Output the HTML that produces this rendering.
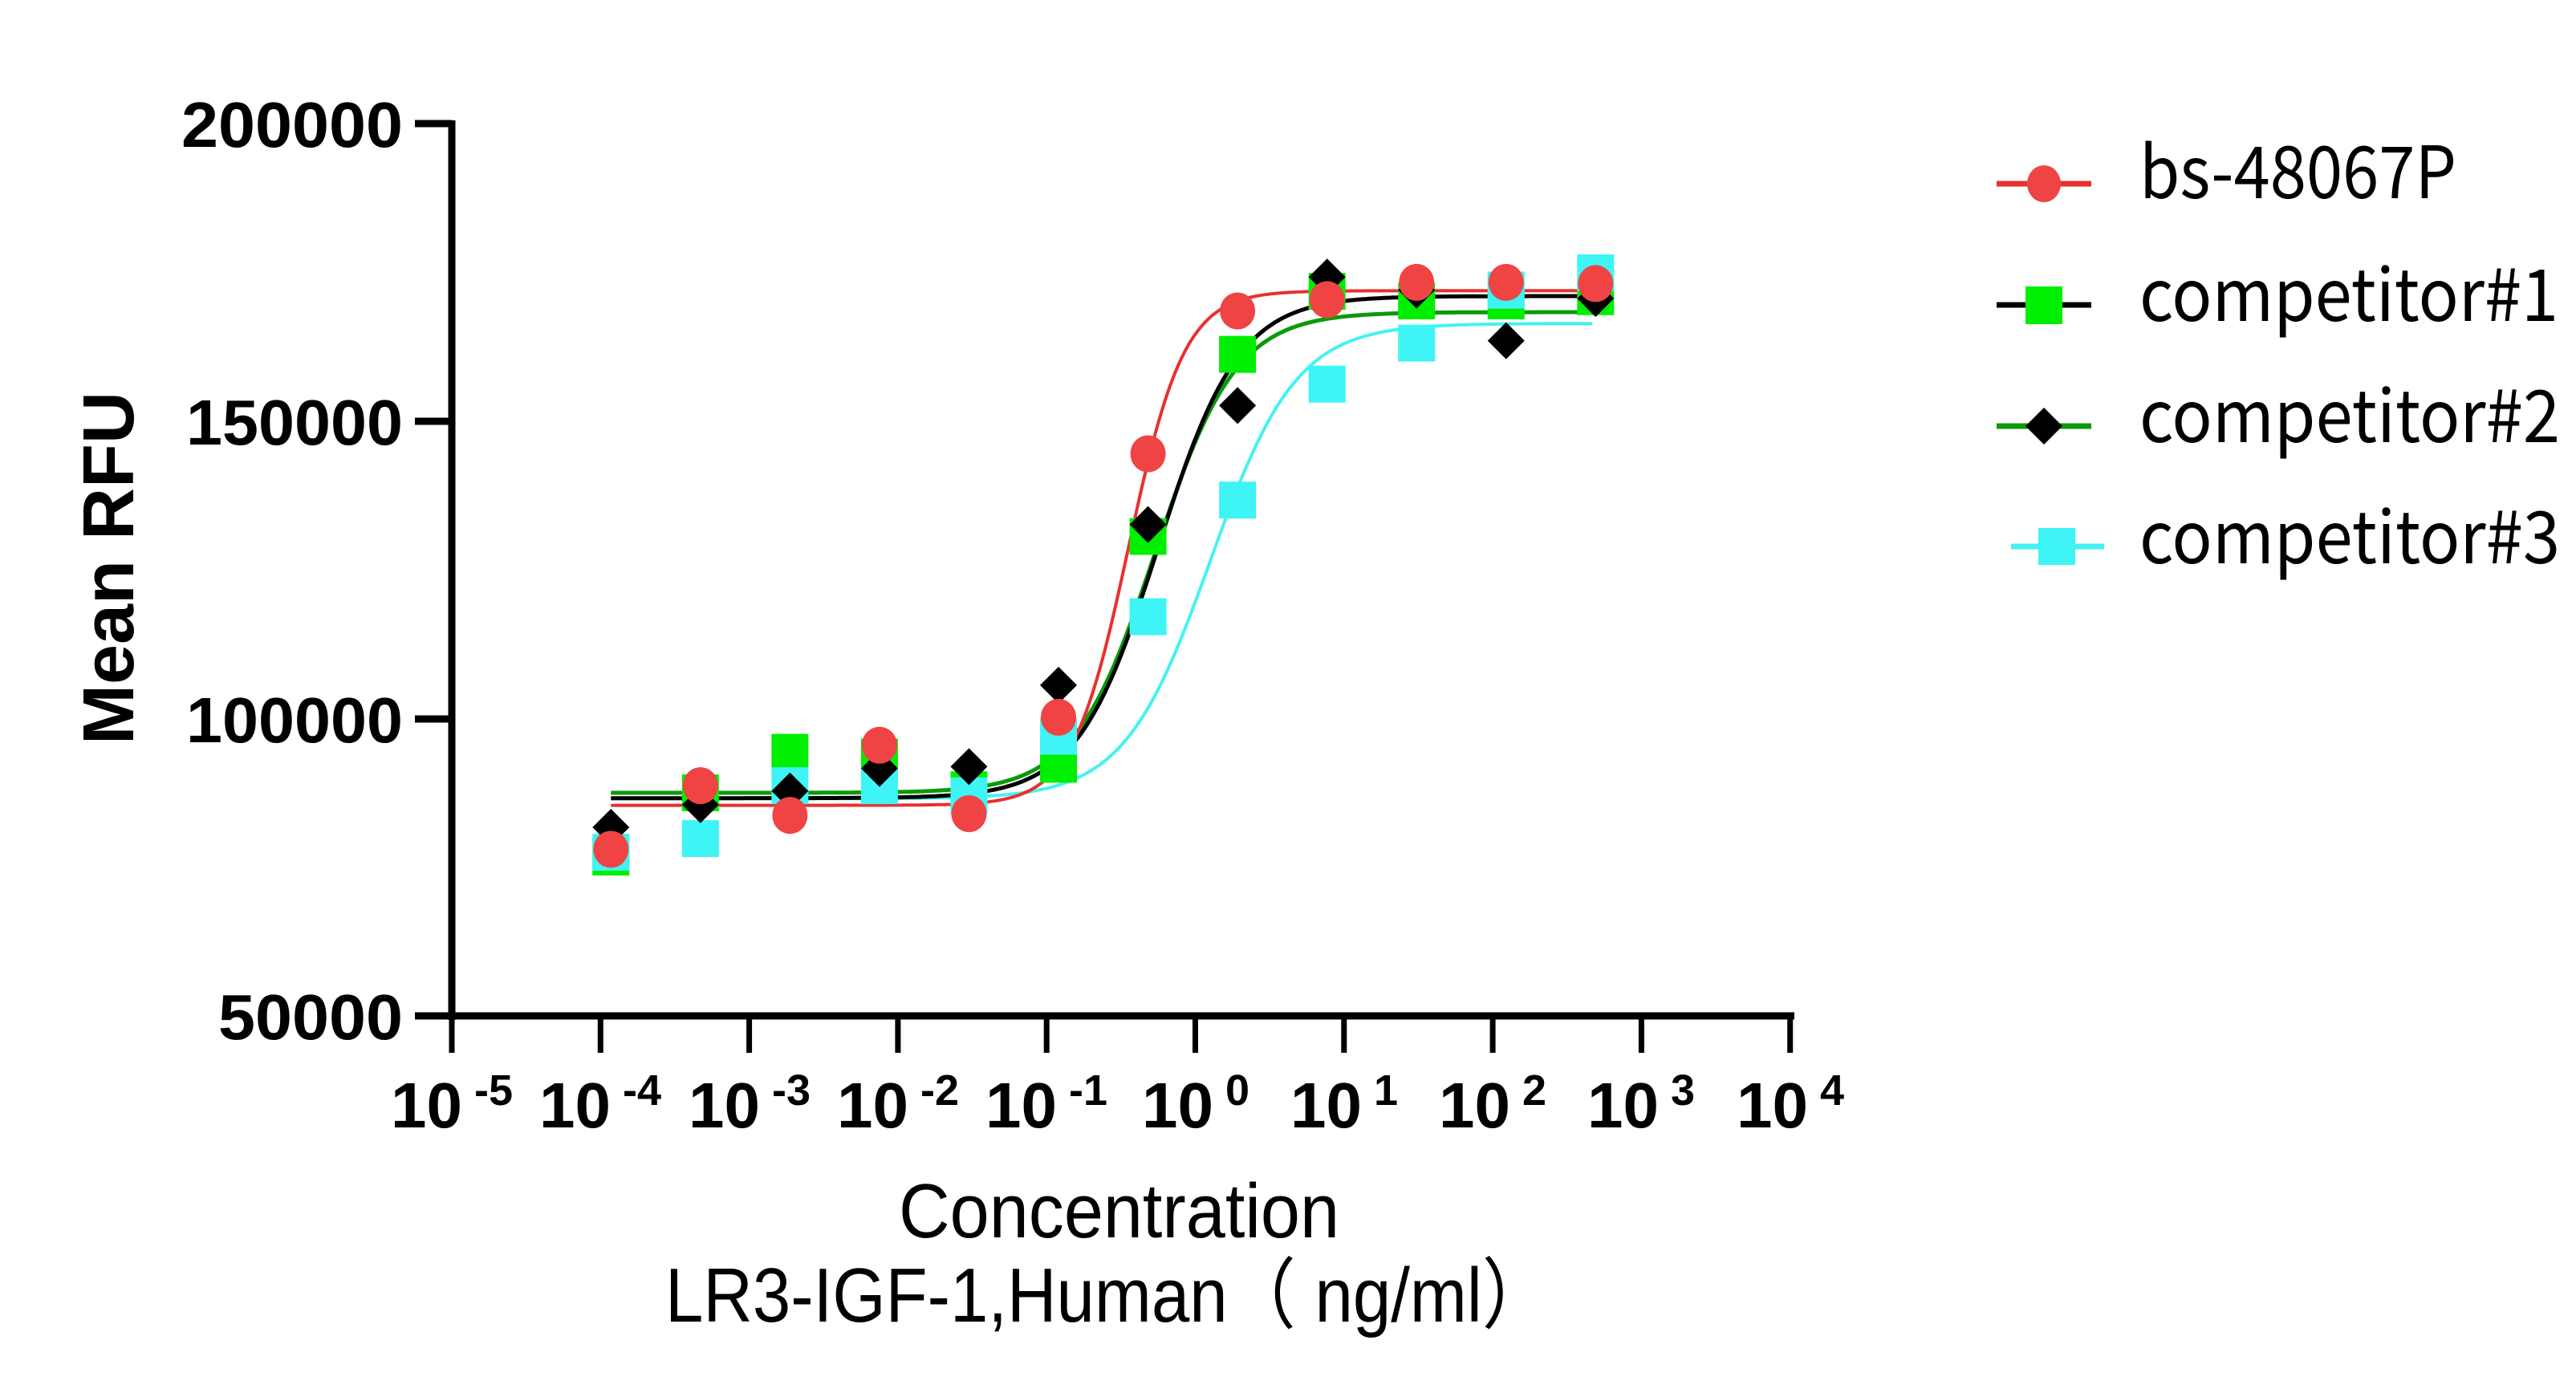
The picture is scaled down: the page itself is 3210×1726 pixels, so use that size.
<!DOCTYPE html>
<html><head><meta charset="utf-8"><style>
html,body{margin:0;padding:0;background:#fff;}
svg{display:block;}
</style></head><body>
<svg id="s" width="3210" height="1726" viewBox="0 0 3210 1726" xmlns="http://www.w3.org/2000/svg">
<rect width="3210" height="1726" fill="#fff"/>
<g id="curves"></g>
<g id="pts"></g>
<g stroke="#000" stroke-width="9" fill="none">
<line x1="563" y1="150" x2="563" y2="1271"/>
<line x1="559" y1="1266" x2="2236" y2="1266"/>
<line x1="517" y1="154" x2="563" y2="154"/>
<line x1="517" y1="525" x2="563" y2="525"/>
<line x1="517" y1="896" x2="563" y2="896"/>
<line x1="517" y1="1266" x2="563" y2="1266"/>
</g>
<g id="xt" stroke="#000" stroke-width="7"></g>
<g font-family="Liberation Sans, Arial, sans-serif" font-weight="bold" font-size="80" text-anchor="end" fill="#000">
<text x="502" y="183" textLength="276" lengthAdjust="spacingAndGlyphs">200000</text>
<text x="502" y="554" textLength="270" lengthAdjust="spacingAndGlyphs">150000</text>
<text x="502" y="925" textLength="270" lengthAdjust="spacingAndGlyphs">100000</text>
<text x="502" y="1295" textLength="230" lengthAdjust="spacingAndGlyphs">50000</text>
</g>
<text transform="translate(166,708) rotate(-90)" font-family="Liberation Sans, Arial, sans-serif" font-weight="bold" font-size="90" text-anchor="middle">Mean RFU</text>
<g font-family="Liberation Sans, Arial, sans-serif" font-weight="bold" font-size="80" fill="#000" text-anchor="middle">
<text x="563" y="1405">10<tspan font-size="54" dy="-28"> -5</tspan></text>
<text x="748" y="1405">10<tspan font-size="54" dy="-28"> -4</tspan></text>
<text x="934" y="1405">10<tspan font-size="54" dy="-28"> -3</tspan></text>
<text x="1119" y="1405">10<tspan font-size="54" dy="-28"> -2</tspan></text>
<text x="1304" y="1405">10<tspan font-size="54" dy="-28"> -1</tspan></text>
<text x="1490" y="1405">10<tspan font-size="54" dy="-28"> 0</tspan></text>
<text x="1675" y="1405">10<tspan font-size="54" dy="-28"> 1</tspan></text>
<text x="1860" y="1405">10<tspan font-size="54" dy="-28"> 2</tspan></text>
<text x="2045" y="1405">10<tspan font-size="54" dy="-28"> 3</tspan></text>
<text x="2231" y="1405">10<tspan font-size="54" dy="-28"> 4</tspan></text>
</g>
<g font-family="Liberation Sans, Arial, sans-serif" font-size="96" fill="#000">
<text x="1120" y="1542" textLength="549" lengthAdjust="spacingAndGlyphs">Concentration</text>
<text x="829" y="1647" textLength="1103" lengthAdjust="spacingAndGlyphs">LR3-IGF-1,Human（ ng/ml）</text>
</g>
<g stroke-width="7">
<line x1="2488" y1="229" x2="2606" y2="229" stroke="#e8302f"/>
<ellipse cx="2547" cy="229" rx="21" ry="23" fill="#f04343"/>
<line x1="2488" y1="380" x2="2606" y2="380" stroke="#000"/>
<rect x="2524" y="357" width="46" height="47" fill="#00ee00"/>
<line x1="2488" y1="531" x2="2606" y2="531" stroke="#0a9a0a"/>
<polygon points="2547,508 2570,531 2547,554 2524,531" fill="#000"/>
<line x1="2506" y1="681" x2="2622" y2="681" stroke="#44f2f2"/>
<rect x="2540" y="658" width="46" height="46" fill="#3ef4f4"/>
</g>
<g font-family="'Noto Sans CJK SC', 'Liberation Sans', sans-serif" font-size="90" fill="#000">
<text x="2666" y="247" textLength="395" lengthAdjust="spacingAndGlyphs">bs-48067P</text>
<text x="2666" y="400" textLength="522" lengthAdjust="spacingAndGlyphs">competitor#1</text>
<text x="2666" y="551" textLength="524" lengthAdjust="spacingAndGlyphs">competitor#2</text>
<text x="2666" y="702" textLength="524" lengthAdjust="spacingAndGlyphs">competitor#3</text>
</g>
</svg>
<script>
(function(){
var NS="http://www.w3.org/2000/svg";
function X(l){return 563+(l+5)*185.3;}
function Y(v){return 1266-(v-50000)*1112/150000;}
var xt=document.getElementById('xt');
for(var i=0;i<10;i++){var l=document.createElementNS(NS,'line');var x=X(i-5);
l.setAttribute('x1',x);l.setAttribute('x2',x);l.setAttribute('y1',1266);l.setAttribute('y2',1312);xt.appendChild(l);}
var fits=[
 {b:86500,t:166400,ec:0.10,h:1.5,c:'#44f2f2',w:4},
 {b:87500,t:168300,ec:-0.27,h:1.6,c:'#0a9a0a',w:5},
 {b:86600,t:171000,ec:-0.25,h:1.6,c:'#000',w:5},
 {b:85400,t:171900,ec:-0.45,h:2.3,c:'#e8302f',w:4}];
var cg=document.getElementById('curves');
fits.forEach(function(f){var d='';for(var l=-3.93;l<=2.69;l+=0.02){var v=f.b+(f.t-f.b)/(1+Math.pow(10,(f.ec-l)*f.h));d+=(d?'L':'M')+X(l).toFixed(1)+','+Y(v).toFixed(1);}
var p=document.createElementNS(NS,'path');p.setAttribute('d',d);p.setAttribute('fill','none');p.setAttribute('stroke',f.c);p.setAttribute('stroke-width',f.w);cg.appendChild(p);});
var L=[];for(var i=0;i<12;i++)L.push(-3.93+0.602*i);
var green=[76700,87500,94300,93500,88000,92300,130600,161200,171800,170200,170200,170900];
var cyan=[77500,79800,88700,88700,87000,97000,117100,136700,156200,163100,172000,174900];
var black=[81700,85500,87800,91600,91900,105600,132600,152600,174200,172000,163500,170600];
var red=[78000,88700,83700,95500,84000,100200,144500,168500,170400,173300,173300,173100];
var pg=document.getElementById('pts');
function add(tag,attrs){var e=document.createElementNS(NS,tag);for(var k in attrs)e.setAttribute(k,attrs[k]);pg.appendChild(e);}
green.forEach(function(v,i){add('rect',{x:X(L[i])-23,y:Y(v)-23,width:46,height:46,fill:'#00ee00'});});
cyan.forEach(function(v,i){add('rect',{x:X(L[i])-23,y:Y(v)-23,width:46,height:46,fill:'#3ef4f4'});});
black.forEach(function(v,i){var x=X(L[i]),y=Y(v);add('polygon',{points:x+','+(y-23)+' '+(x+23)+','+y+' '+x+','+(y+23)+' '+(x-23)+','+y,fill:'#000'});});
red.forEach(function(v,i){add('ellipse',{cx:X(L[i]),cy:Y(v),rx:22,ry:23,fill:'#f04343'});});
})();
</script>
</body></html>
